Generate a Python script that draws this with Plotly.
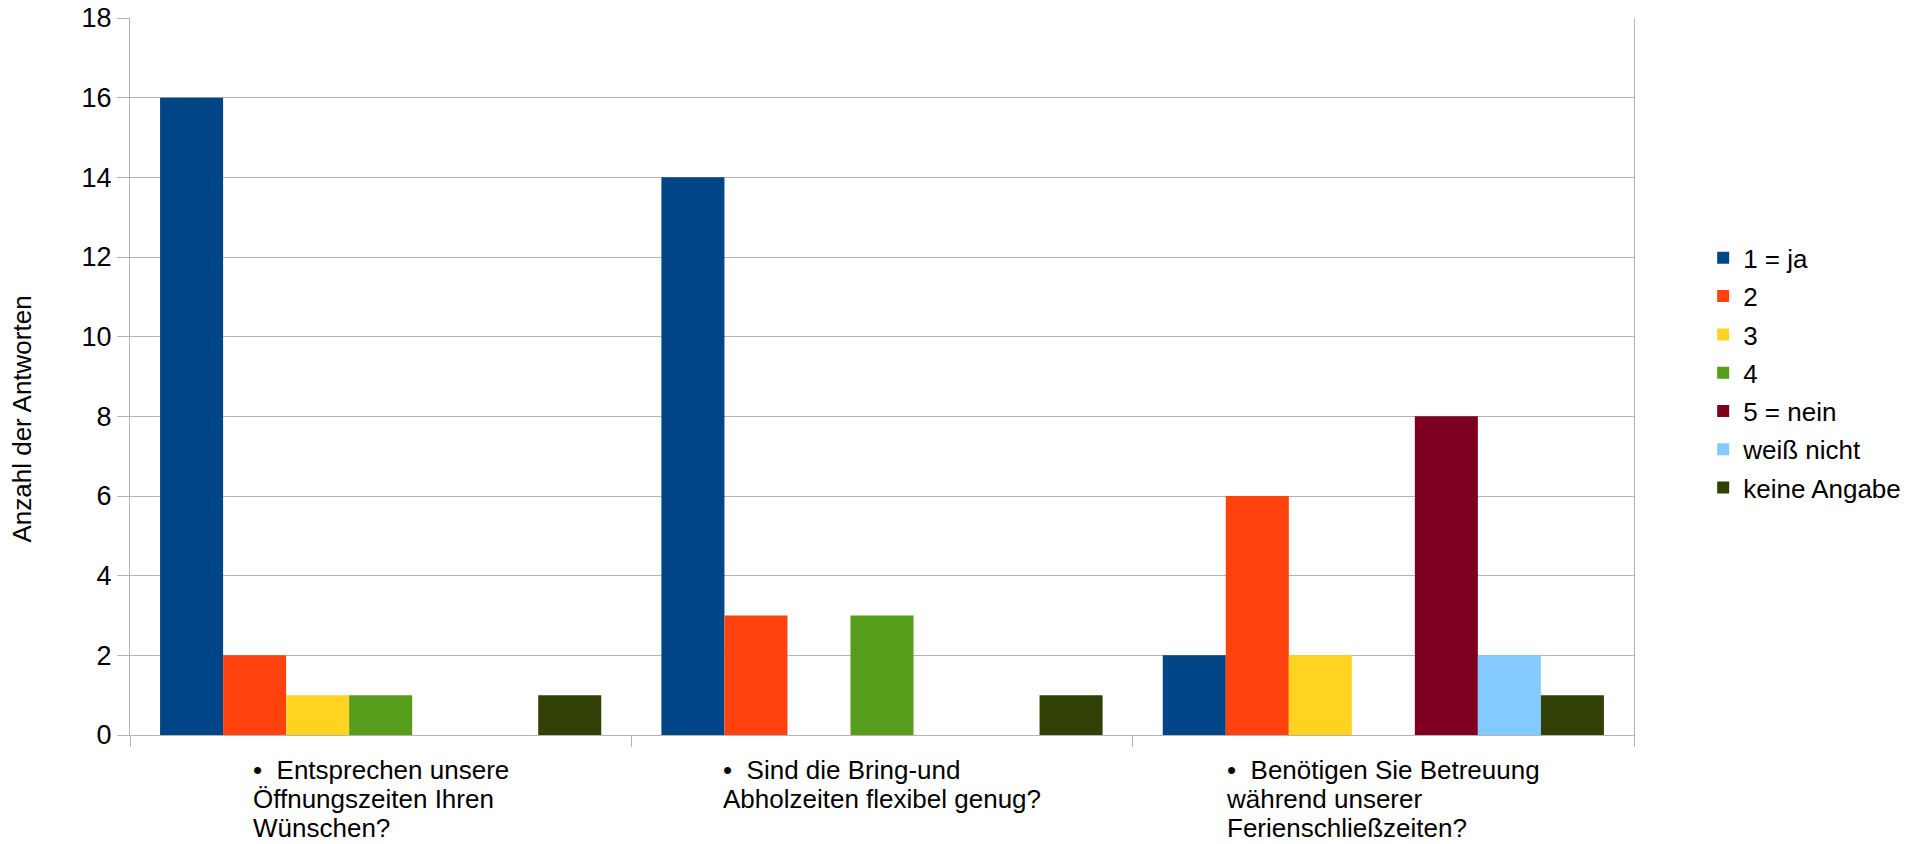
import plotly.graph_objects as go

categories = ["Q1", "Q2", "Q3"]
category_lines = [
    ["•  Entsprechen unsere", "Öffnungszeiten Ihren", "Wünschen?"],
    ["•  Sind die Bring-und", "Abholzeiten flexibel genug?"],
    ["•  Benötigen Sie Betreuung", "während unserer", "Ferienschließzeiten?"],
]
series_names = ["1 = ja", "2", "3", "4", "5 = nein", "weiß nicht", "keine Angabe"]
series_values = [
    [16, 14, 2],
    [2, 3, 6],
    [1, 0, 2],
    [1, 3, 0],
    [0, 0, 8],
    [0, 0, 2],
    [1, 1, 1],
]
colors = ["#004586", "#ff420e", "#ffd320", "#579d1c", "#7e0021", "#83caff", "#314004"]
y_ticks = list(range(0, 19, 2))
y_title = "Anzahl der Antworten"

FONT = "Liberation Sans, Arial, sans-serif"
GRID = "#b3b3b3"
FS = 26

fig = go.Figure()
for name, vals, col in zip(series_names, series_values, colors):
    fig.add_trace(go.Bar(x=categories, y=vals, name=name, marker_color=col,
                         marker_line_width=0, legendgroup=name))

for cat, lines in zip(categories, category_lines):
    text = "<br>".join(f"<span style='font-size:{FS}px'>{ln}</span>" for ln in lines)
    fig.add_annotation(x=cat, y=0, xref="x", yref="paper", text=text, showarrow=False,
                       align="left", xanchor="center", yanchor="top", yshift=-18,
                       font=dict(family=FONT, size=22.3, color="#000000"))

fig.add_annotation(x=0, y=0.44, xref="paper", yref="paper", text=y_title,
                   showarrow=False, textangle=-90, xanchor="center", yanchor="middle",
                   xshift=-108, font=dict(family=FONT, size=FS, color="#000000"))

fig.update_layout(
    width=1912, height=844,
    margin=dict(l=130, r=278, t=18, b=109, autoexpand=False),
    paper_bgcolor="white", plot_bgcolor="white",
    barmode="group", bargap=0.12, bargroupgap=0,
    font=dict(family=FONT, size=FS, color="#000000"),
    legend=dict(x=1.046, y=0.505, xanchor="left", yanchor="middle",
                font=dict(family=FONT, size=FS), tracegroupgap=1.5,
                bgcolor="rgba(0,0,0,0)"),
    xaxis=dict(showticklabels=False, ticks="outside", tickson="boundaries", ticklen=11,
               tickcolor=GRID, showline=True, linecolor=GRID, linewidth=1,
               showgrid=False, zeroline=False, automargin=False),
    yaxis=dict(range=[0, 18], tickvals=y_ticks, ticks="outside", ticklen=12,
               tickcolor=GRID, showline=True, mirror=True, linecolor=GRID, linewidth=1,
               showgrid=True, gridcolor=GRID, gridwidth=1, zeroline=False,
               ticklabeloverflow="allow", automargin=False,
               tickfont=dict(family=FONT, size=27, color="#000000")),
)

fig.write_html("out.html", config={"displayModeBar": False},
               post_script="document.body.style.margin='0';")
